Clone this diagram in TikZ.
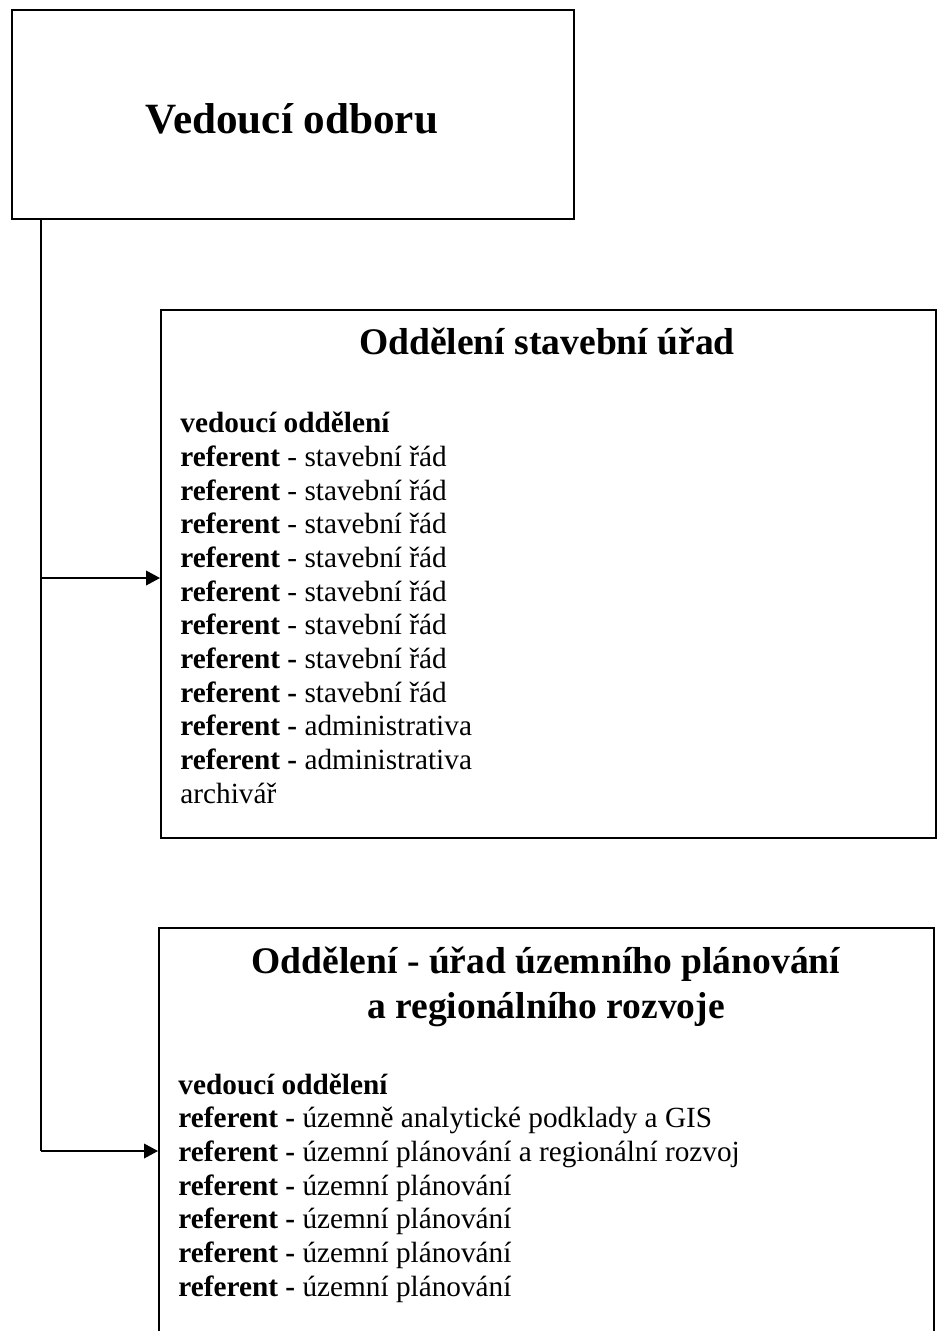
\documentclass[tikz,border=0pt]{standalone}
\usepackage{fontspec}
\setmainfont{Liberation Serif}
\usetikzlibrary{arrows.meta}

\def\px{0.41pt}

\begin{document}
\begin{tikzpicture}[x=0.41pt,y=-0.41pt,
    box/.style={draw, line width=0.8pt, anchor=north west, inner sep=0pt},
    conn/.style={line width=0.6pt},
    arrow/.style={conn, -{Triangle[length=5.7pt,width=6pt]}},
    heading/.style={font=\bfseries\fontsize{15.4}{18.4}\selectfont, align=center, anchor=base},
    staff/.style={font=\fontsize{12}{13.8}\selectfont, align=left, anchor=base west, inner sep=0pt}]

  % Page size, the lower box runs off the page
  \useasboundingbox (0,0) rectangle (937,1331);
  \clip (0,0) rectangle (937,1331);

  % Define the three boxes
  \node[box, minimum width=562*\px, minimum height=209*\px] (head) at (11,9) {};
  \node[box, minimum width=775*\px, minimum height=528*\px] (stav) at (160,309) {};
  \node[box, minimum width=775*\px, minimum height=440*\px] (uzem) at (158,927) {};

  % Texts of the boxes (base of a list node = its last line)
  \node[font=\bfseries\fontsize{17.7}{20}\selectfont, anchor=base] (headtext) at (292,133) {Vedoucí odboru};

  \node[heading] (stavtitle) at (547,354) {Oddělení stavební úřad};
  \node[staff] (stavlist) at (180,803) {%
    \textbf{vedoucí oddělení}\\
    \textbf{referent} - stavební řád\\
    \textbf{referent} - stavební řád\\
    \textbf{referent} - stavební řád\\
    \textbf{referent} - stavební řád\\
    \textbf{referent} - stavební řád\\
    \textbf{referent} - stavební řád\\
    \textbf{referent -} stavební řád\\
    \textbf{referent -} stavební řád\\
    \textbf{referent -} administrativa\\
    \textbf{referent -} administrativa\\
    archivář};

  \node[heading] (uzemtitle) at (546,1018) {Oddělení - úřad územního plánování\\a regionálního rozvoje};
  \node[staff] (uzemlist) at (178,1296) {%
    \textbf{vedoucí oddělení}\\
    \textbf{referent -} územně analytické podklady a GIS\\
    \textbf{referent -} územní plánování a regionální rozvoj\\
    \textbf{referent -} územní plánování\\
    \textbf{referent -} územní plánování\\
    \textbf{referent -} územní plánování\\
    \textbf{referent -} územní plánování};

  % Connectors
  \coordinate (j1) at (41,578);
  \coordinate (j2) at (41,1151);
  \draw[conn] (head.south -| j1) -- (j2);
  \draw[arrow] (j1) -- (j1 -| stav.west);
  \draw[arrow] (j2) -- (j2 -| uzem.west);
\end{tikzpicture}
\end{document}
